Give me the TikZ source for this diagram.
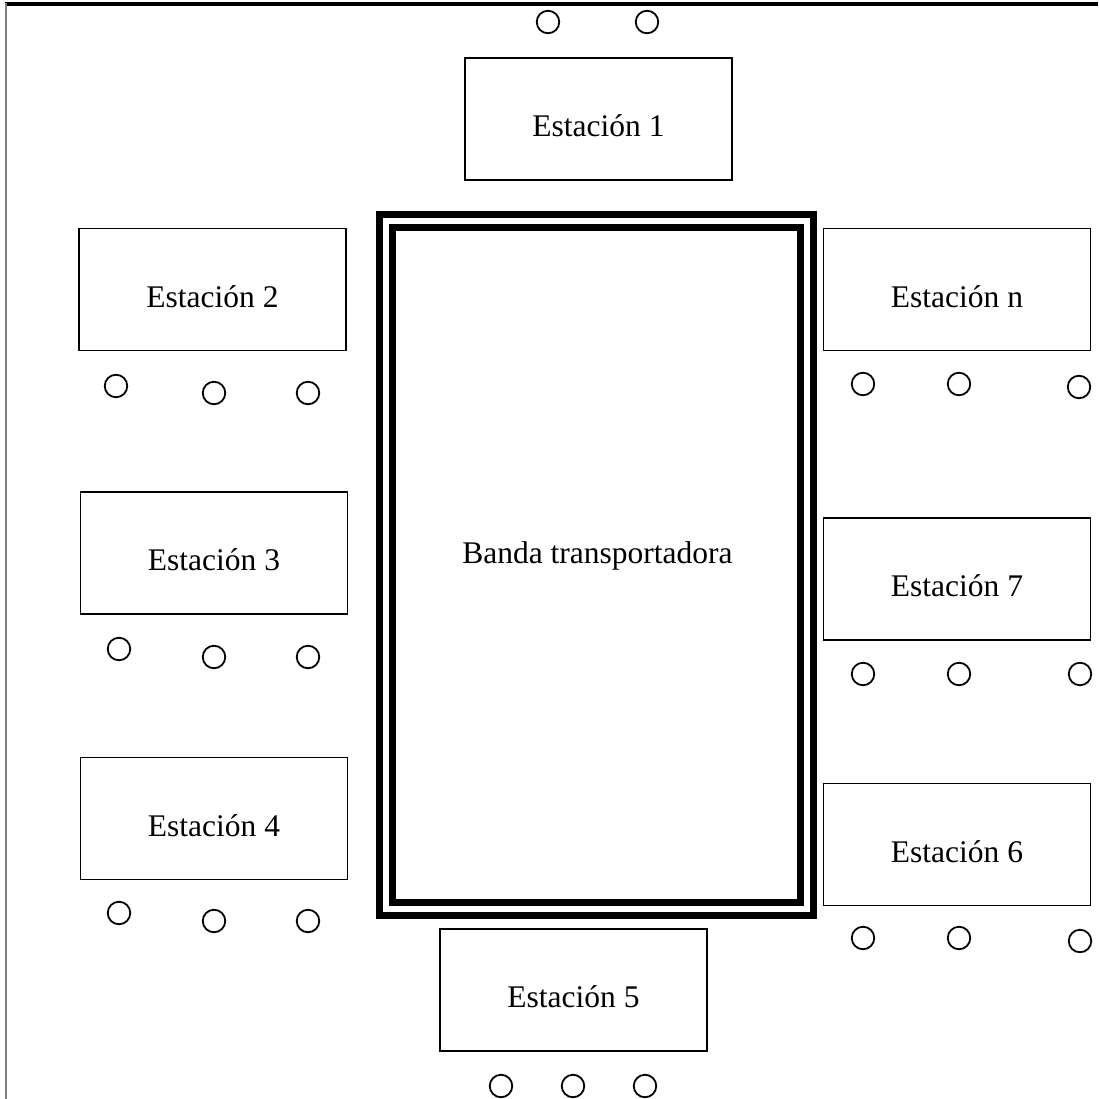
\documentclass[tikz,border=0pt]{standalone}
\usepackage{fontspec}
\setmainfont{Liberation Serif}
\begin{document}
\begin{tikzpicture}[x=1pt,y=-1pt,
  stationbox/.style={draw,line width=1.9pt,minimum width=267pt,minimum height=122pt,
    inner sep=0pt,text height=35pt,text depth=0pt,font=\fontsize{31.5}{38}\selectfont},
  seat/.style={draw,circle,line width=1.8pt,minimum size=22.5pt,inner sep=0pt},
  belt/.style={draw,line width=7pt,double=white,double distance=6pt,
    minimum width=421pt,minimum height=687pt,inner sep=0pt},
  lbl/.style={anchor=base,inner sep=0pt,font=\fontsize{31.5}{38}\selectfont}]
\useasboundingbox (0,0) rectangle (1098,1099);
% frame edges
\draw[line width=4pt] (5,4.5) -- (1098,4.5);
\draw[gray,line width=2pt] (6,3) -- (6,1099);
% conveyor
\node[belt] (band) at (596.5,565) {};
\node[lbl] (bandtext) at (597.5,563) {Banda transportadora};
% stations
\node[stationbox] (s1) at (598.5,119) {Estación 1};
\node[stationbox] (s2) at (212.5,289.5) {Estación 2};
\node[stationbox] (sn) at (957,289.5) {Estación n};
\node[stationbox] (s3) at (214,553) {Estación 3};
\node[stationbox] (s7) at (957,579) {Estación 7};
\node[stationbox] (s4) at (214,818.5) {Estación 4};
\node[stationbox] (s6) at (957,844.5) {Estación 6};
\node[stationbox] (s5) at (573.5,990) {Estación 5};
% operators
\node[seat] (o1a) at (548,22) {};
\node[seat] (o1b) at (647,22) {};
\node[seat] (o2a) at (116,386) {};
\node[seat] (o2b) at (214,393) {};
\node[seat] (o2c) at (308,393) {};
\node[seat] (ona) at (863,384) {};
\node[seat] (onb) at (959,384) {};
\node[seat] (onc) at (1079,387) {};
\node[seat] (o3a) at (119,649) {};
\node[seat] (o3b) at (214,657) {};
\node[seat] (o3c) at (308,657) {};
\node[seat] (o7a) at (863,674) {};
\node[seat] (o7b) at (959,674) {};
\node[seat] (o7c) at (1080,674) {};
\node[seat] (o4a) at (119,913) {};
\node[seat] (o4b) at (214,921) {};
\node[seat] (o4c) at (308,921) {};
\node[seat] (o6a) at (863,938) {};
\node[seat] (o6b) at (959,938) {};
\node[seat] (o6c) at (1080,941) {};
\node[seat] (o5a) at (501,1086) {};
\node[seat] (o5b) at (573,1086) {};
\node[seat] (o5c) at (645,1086) {};
\end{tikzpicture}
\end{document}
